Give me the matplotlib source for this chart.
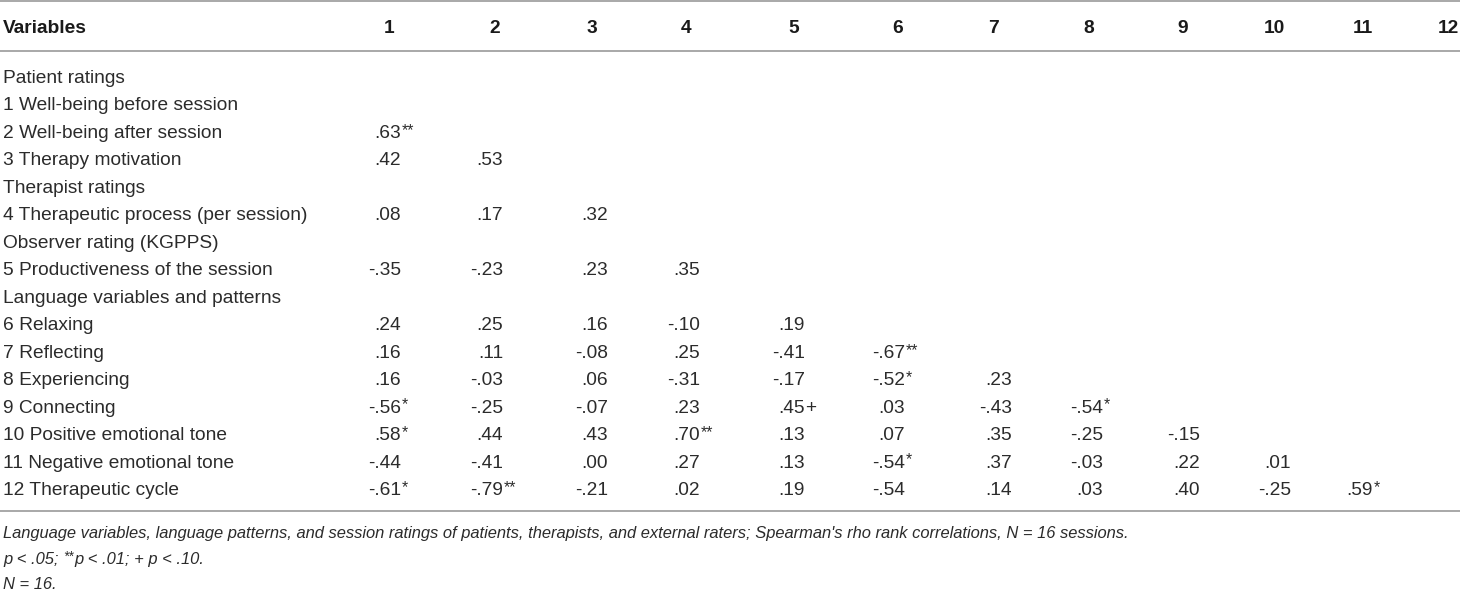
import matplotlib
matplotlib.use("Agg")
import matplotlib.pyplot as plt

# Table content
variables = [
    "1 Well-being before session",
    "2 Well-being after session",
    "3 Therapy motivation",
    "4 Therapeutic process (per session)",
    "5 Productiveness of the session",
    "6 Relaxing",
    "7 Reflecting",
    "8 Experiencing",
    "9 Connecting",
    "10 Positive emotional tone",
    "11 Negative emotional tone",
    "12 Therapeutic cycle",
]
group_names = ["Patient ratings", "Therapist ratings",
               "Observer rating (KGPPS)", "Language variables and patterns"]
group_starts = [0, 3, 4, 5]  # index of first variable in each group

# lower-triangle Spearman correlations (row i holds columns 1..i-1)
corr = [
    [],
    [.63],
    [.42, .53],
    [.08, .17, .32],
    [-.35, -.23, .23, .35],
    [.24, .25, .16, -.10, .19],
    [.16, .11, -.08, .25, -.41, -.67],
    [.16, -.03, .06, -.31, -.17, -.52, .23],
    [-.56, -.25, -.07, .23, .45, .03, -.43, -.54],
    [.58, .44, .43, .70, .13, .07, .35, -.25, -.15],
    [-.44, -.41, .00, .27, .13, -.54, .37, -.03, .22, .01],
    [-.61, -.79, -.21, .02, .19, -.54, .14, .03, .40, -.25, .59],
]
sig = [
    [],
    ["**"],
    ["", ""],
    ["", "", ""],
    ["", "", "", ""],
    ["", "", "", "", ""],
    ["", "", "", "", "", "**"],
    ["", "", "", "", "", "*", ""],
    ["*", "", "", "", "+", "", "", "*"],
    ["*", "", "", "**", "", "", "", "", ""],
    ["", "", "", "", "", "*", "", "", "", ""],
    ["*", "**", "", "", "", "", "", "", "", "", "*"],
]
col_headers = [str(i) for i in range(1, 13)]

note_1 = ("Language variables, language patterns, and session ratings of patients, "
          "therapists, and external raters; Spearman's rho rank correlations, N = 16 sessions.")
note_2 = [("p < .05; ", False), ("**", True), ("p < .01; + p < .10.", False)]
note_3 = "N = 16."

# Layout (pixel coordinates)
W, H = 1460, 591
header_right = [394, 500, 597, 691, 799, 903, 999, 1094, 1188, 1285, 1373, 1459]
value_right = [401, 503, 608, 700, 805, 905, 1012, 1103, 1200, 1291, 1373]
first_base = 83
row_step = 27.47
txt_color = "#2b2b2b"
line_color = "#9a9a9a"
fs = 13.8
fs_note = 11.9
font = "Liberation Sans"


def fmt(v):
    return f"{v:.2f}".replace("0.", ".", 1)


fig = plt.figure(figsize=(W / 100, H / 100), dpi=100)
ax = fig.add_axes([0, 0, 1, 1])
ax.set_xlim(0, W)
ax.set_ylim(H, 0)
ax.axis("off")

# rules
for y in [1, 51, 511]:
    ax.plot([0, W], [y, y], color=line_color, lw=1.2, solid_capstyle="butt")

# header
ax.text(3, 33, "Variables", fontsize=fs, fontweight="bold", family=font,
        color="#1a1a1a", va="baseline", ha="left")
for x, lab in zip(header_right, col_headers):
    ax.text(x, 33, lab, fontsize=fs, fontweight="bold", family=font,
            color="#1a1a1a", va="baseline", ha="right")

# body rows
line = 0
for i, name in enumerate(variables):
    if i in group_starts:
        g = group_starts.index(i)
        ax.text(3, first_base + line * row_step, group_names[g], fontsize=fs,
                family=font, color=txt_color, va="baseline", ha="left")
        line += 1
    yb = first_base + line * row_step
    ax.text(3, yb, name, fontsize=fs, family=font, color=txt_color,
            va="baseline", ha="left")
    for j, v in enumerate(corr[i]):
        ax.text(value_right[j], yb, fmt(v), fontsize=fs, family=font,
                color=txt_color, va="baseline", ha="right")
        mark = sig[i][j]
        if mark == "+":
            ax.text(value_right[j], yb, mark, fontsize=fs, family=font,
                    color=txt_color, va="baseline", ha="left")
        elif mark:
            ax.text(value_right[j] + 0.5, yb - 3, mark, fontsize=fs * 0.82,
                    family=font, color=txt_color, va="baseline", ha="left")
    line += 1

# footnotes
ax.text(3, 538, note_1, fontsize=fs_note, family=font, style="italic",
        color=txt_color, va="baseline", ha="left")

fig.canvas.draw()
renderer = fig.canvas.get_renderer()
inv = ax.transData.inverted()
x = 3
for seg, sup in note_2:
    t = ax.text(x, 564 - (3 if sup else 0), seg,
                fontsize=fs_note * (0.82 if sup else 1.0), family=font,
                style="italic", color=txt_color, va="baseline", ha="left")
    bb = t.get_window_extent(renderer=renderer)
    x = inv.transform((bb.x1, bb.y0))[0] + (1 if sup else 0)

ax.text(3, 589, note_3, fontsize=fs_note, family=font, style="italic",
        color=txt_color, va="baseline", ha="left")

fig.savefig("out.png", dpi=100)
